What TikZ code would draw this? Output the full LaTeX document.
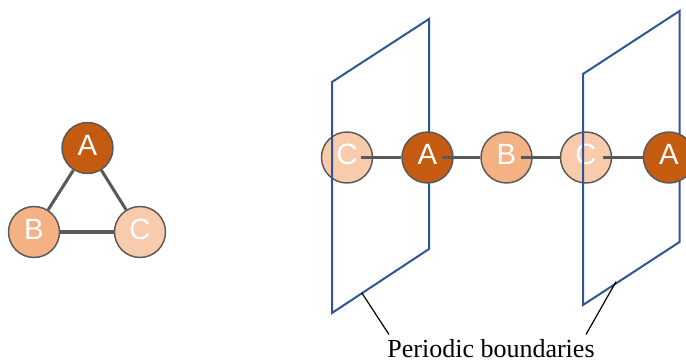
\documentclass[tikz,border=0pt]{standalone}
\usepackage{fontspec}
\setmainfont{Liberation Serif}
\newfontfamily\circfont{Liberation Sans}
\definecolor{atomA}{HTML}{C55A11}
\definecolor{atomB}{HTML}{F4B183}
\definecolor{atomC}{HTML}{F8CBAD}
\definecolor{outl}{HTML}{595959}
\definecolor{bond}{HTML}{595959}
\definecolor{plane}{HTML}{2F5597}
\begin{document}
\begin{tikzpicture}[x=0.75pt,y=-0.75pt,
  atom/.style={circle,draw=outl,line width=1.1pt,minimum size=38.25pt,inner sep=0pt,
    text=white,text height=16pt,text depth=5pt,font=\circfont\fontsize{22}{22}\selectfont},
  aA/.style={atom,fill=atomA},
  aB/.style={atom,fill=atomB},
  aC/.style={atom,fill=atomC},
  bondline/.style={draw=bond,line width=2.3pt},
  planeline/.style={draw=plane,line width=1.5pt,line join=miter},
  pointer/.style={draw=black,line width=0.9pt}]
\useasboundingbox (0,0) rectangle (686,360);

% triangle
\node[aA] (tA) at (87.5,148) {A};
\node[aB] (tB) at (34,232) {B};
\node[aC] (tC) at (140,232) {C};
\draw[bondline] (tA) -- (tB);
\draw[bondline] (tA) -- (tC);
\draw[bondline] (tB) -- (tC);

% chain: C and B atoms (behind planes)
\node[aC] (c1) at (347,157.5) {C};
\node[aB] (b1) at (506.5,157.5) {B};
\node[aC] (c2) at (586,157.5) {C};

% periodic planes
\draw[planeline] (332,82) -- (429,19) -- (429,249) -- (332,313) -- cycle;
\draw[planeline] (583,74) -- (679.5,11) -- (679.5,242) -- (583,305) -- cycle;

% A atoms (in front of back edges)
\node[aA] (a1) at (427.5,157.5) {A};
\node[aA] (a2) at (669,157.5) {A};

% bonds
\draw[bondline] ([xshift=10.5pt]c1.center) -- (a1.west);
\draw[bondline] ([xshift=10.5pt]a1.center) -- (b1.west);
\draw[bondline] ([xshift=10.5pt]b1.center) -- (c2.west);
\draw[bondline] ([xshift=12.5pt]c2.center) -- (a2.west);

% label and pointers
\node[anchor=base,font=\fontsize{19.5}{19.5}\selectfont,inner sep=0pt] (lbl) at (491,357) {Periodic boundaries};
\coordinate (q1) at (361.7,292.7);
\coordinate (q2) at (616,281.7);
\coordinate (p1) at (389,334.5);
\coordinate (p2) at (586,334.5);
\draw[pointer] (q1) -- (p1);
\draw[pointer] (q2) -- (p2);
\end{tikzpicture}
\end{document}
